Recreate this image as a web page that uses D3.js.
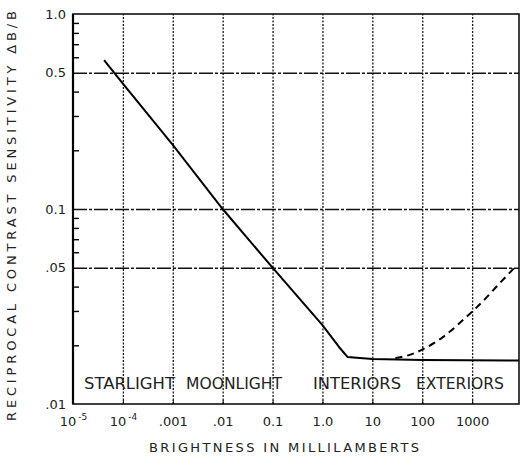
<!DOCTYPE html>
<html>
<head>
<meta charset="utf-8">
<script src="https://cdn.jsdelivr.net/npm/d3@7"></script>
<style>
  body { margin: 0; background: #fff; }
  svg text { font-family: "DejaVu Sans", sans-serif; fill: #222; }
</style>
</head>
<body>
<svg id="chart" width="520" height="461"></svg>
<script>
// brightness (millilamberts) vs reciprocal contrast sensitivity dB/B
var solidB = [4.2e-5, 1e-4, 1e-3, 1e-2, 0.1, 1, 2.3, 3.2, 10, 100, 8700];
var solidV = [0.58, 0.44, 0.213, 0.1, 0.05, 0.0254, 0.0192, 0.0174, 0.0170, 0.0168, 0.0167];

var dashB = [29, 50, 100, 263, 724, 1580, 3630, 7940];
var dashV = [0.0172, 0.0177, 0.0190, 0.0221, 0.0276, 0.0333, 0.0418, 0.0516];

var xTicks = [1e-5, 1e-4, 1e-3, 1e-2, 0.1, 1, 10, 100, 1000];
var xLabels = ["10|-5", "10|-4", ".001", ".01", "0.1", "1.0", "10", "100", "1000"];

var yTicks = [1, 0.5, 0.1, 0.05, 0.01];
var yLabels = ["1.0", "0.5", "0.1", ".05", ".01"];
var yMinor = [0.9, 0.8, 0.7, 0.6, 0.4, 0.3, 0.2, 0.09, 0.08, 0.07, 0.06, 0.04, 0.03, 0.02];
var yGrid = [0.5, 0.1, 0.05];

var regions = ["STARLIGHT", "MOONLIGHT", "INTERIORS", "EXTERIORS"];
var regionX = [84, 186, 313, 416];   // left edge of each word
var regionW = [91, 96, 88, 88];

let mLeft = 73, mRight = 519, mTop = 14, mBottom = 404

var svg = d3.select("#chart")

var x = d3.scaleLog().domain([1e-5, 8700]).range([mLeft, mRight])
var y = d3.scaleLog().domain([0.01, 1]).range([mBottom, mTop])

// vertical grid (dotted)
svg.append("g")
    .attr("transform", "translate(0," + mBottom + ")")
    .call(d3.axisBottom(x).tickValues(xTicks.slice(1)).tickSize(-(mBottom - mTop)).tickFormat(""))
    .call(g => g.select(".domain").remove())
    .selectAll("line")
        .attr("stroke", "#1a1a1a")
        .attr("stroke-width", 1.3)
        .attr("stroke-dasharray", "2,1.5")

// horizontal grid
svg.append("g")
    .attr("transform", "translate(" + mLeft + ",0)")
    .call(d3.axisLeft(y).tickValues(yGrid).tickSize(-(mRight - mLeft)).tickFormat(""))
    .call(g => g.select(".domain").remove())
    .selectAll("line")
        .attr("stroke", "#111")
        .attr("stroke-width", 1.6)
        .attr("stroke-dasharray", "14,2,3,2")

// frame
svg.append("rect")
    .attr("x", mLeft).attr("y", mTop)
    .attr("width", mRight - mLeft).attr("height", mBottom - mTop)
    .attr("fill", "none")
    .attr("stroke", "#111")
    .attr("stroke-width", 1.6)

svg.append("line")
    .attr("x1", mLeft).attr("x2", mLeft).attr("y1", mTop).attr("y2", mBottom)
    .attr("stroke", "#000").attr("stroke-width", 2.2)

// minor ticks on the left axis, pointing inward
svg.append("g")
    .attr("transform", "translate(" + mLeft + ",0)")
    .call(d3.axisLeft(y).tickValues(yMinor).tickSize(-6).tickFormat(""))
    .call(g => g.select(".domain").remove())
    .selectAll("line").attr("stroke", "#000").attr("stroke-width", 1.4)

// y tick labels
var yAx = svg.append("g")
    .attr("transform", "translate(" + mLeft + ",0)")
    .call(d3.axisLeft(y).tickValues(yTicks).tickSize(0).tickPadding(7).tickFormat((d, i) => yLabels[i]))
yAx.select(".domain").remove()
yAx.selectAll("text").attr("font-size", 13).style("font-family", "DejaVu Sans")

// x tick labels
var xAx = svg.append("g")
    .attr("transform", "translate(0," + mBottom + ")")
    .call(d3.axisBottom(x).tickValues(xTicks).tickSize(4).tickPadding(8).tickFormat(""))
xAx.select(".domain").remove()
xAx.selectAll("line").attr("stroke", "#000").attr("transform", "translate(0,-4)")
xAx.selectAll(".tick").append("text")
    .attr("y", 22)
    .attr("text-anchor", "middle")
    .attr("font-size", 13)
    .each(function(d, i) {
        var parts = xLabels[i].split("|")
        var t = d3.select(this)
        t.append("tspan").text(parts[0])
        if (parts[1]) {
            t.append("tspan").attr("dy", -6).attr("dx", 2).attr("font-size", 9).text(parts[1])
        }
    })

// region labels
svg.selectAll("text.region")
    .data(regions)
    .enter()
    .append("text")
    .attr("class", "region")
    .attr("x", (d, i) => regionX[i])
    .attr("y", 389)
    .attr("font-size", 16)
    .attr("textLength", (d, i) => regionW[i])
    .attr("lengthAdjust", "spacingAndGlyphs")
    .text(d => d)

// axis titles
svg.append("text")
    .attr("transform", "translate(16,216) rotate(-90)")
    .attr("text-anchor", "middle")
    .attr("font-size", 13)
    .attr("textLength", 410)
    .attr("lengthAdjust", "spacing")
    .text("RECIPROCAL CONTRAST SENSITIVITY ΔB/B")

svg.append("text")
    .attr("x", 284)
    .attr("y", 452)
    .attr("text-anchor", "middle")
    .attr("font-size", 13)
    .attr("textLength", 270)
    .attr("lengthAdjust", "spacing")
    .text("BRIGHTNESS IN MILLILAMBERTS")

// curves
var solid = solidB.map((b, i) => ({b: b, v: solidV[i]}))
var dashed = dashB.map((b, i) => ({b: b, v: dashV[i]}))

var line = d3.line()
    .x(d => x(d.b))
    .y(d => y(d.v))

svg.append("path")
    .datum(solid)
    .attr("d", line.curve(d3.curveLinear))
    .attr("fill", "none")
    .attr("stroke", "#000")
    .attr("stroke-width", 2)

svg.append("path")
    .datum(dashed)
    .attr("d", line.curve(d3.curveCatmullRom))
    .attr("fill", "none")
    .attr("stroke", "#000")
    .attr("stroke-width", 2)
    .attr("stroke-dasharray", "7,5")
</script>
</body>
</html>
